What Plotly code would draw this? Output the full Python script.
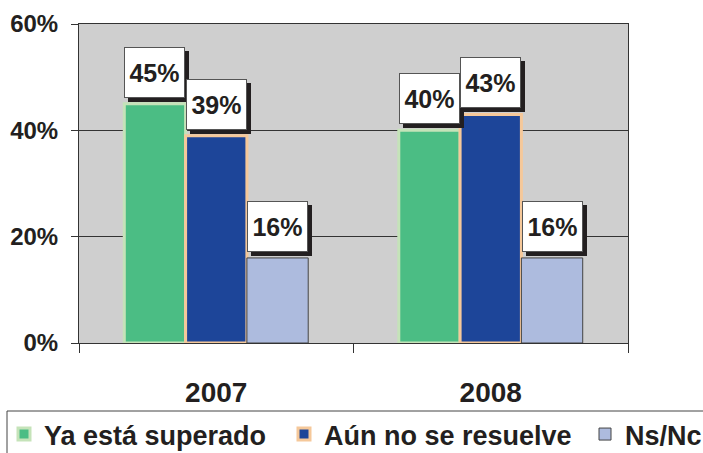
import plotly.graph_objects as go

years = ["2007", "2008"]
series_names = ["Ya está superado", "Aún no se resuelve", "Ns/Nc"]
ya_superado = [0.45, 0.40]
no_resuelve = [0.39, 0.43]
ns_nc = [0.16, 0.16]
y_ticks = [0, 0.2, 0.4, 0.6]
y_tick_labels = ["0%", "20%", "40%", "60%"]

series_values = [ya_superado, no_resuelve, ns_nc]
fill_colors = ["#4bbd84", "#1d4599", "#adbbde"]
line_colors = ["#c5e3b9", "#f5c89a", "#444444"]
line_widths = [3, 3, 1]
legend_ids = ["legend", "legend2", "legend3"]
legend_left_px = [4, 284, 585]

FONT = "Liberation Sans, Arial, sans-serif"
TXT = "#231f20"
W, H = 703, 453
ML, MR, MT, MB = 79, 75, 24, 110
PW, PH = W - ML - MR, H - MT - MB

fig = go.Figure()
for name, vals, fc, lc, lw, lg in zip(series_names, series_values, fill_colors,
                                      line_colors, line_widths, legend_ids):
    fig.add_trace(go.Bar(
        x=years, y=vals, name=name, legend=lg,
        marker=dict(color=fc, line=dict(color=lc, width=lw)),
    ))

bargap = 0.33
n = len(series_values)
bw = (1 - bargap) / n
annotations = []
for si, vals in enumerate(series_values):
    for ci, v in enumerate(vals):
        xpos = ci + (si - (n - 1) / 2) * bw
        label = f"<b>{round(v*100)}%</b>"
        # drop shadow box (no text)
        annotations.append(dict(
            x=xpos, y=v, xref="x", yref="y", text=" ", showarrow=False,
            xanchor="center", yanchor="bottom", xshift=4, yshift=2,
            width=57, height=47, bgcolor="#231f20", bordercolor="#231f20",
            borderwidth=1, borderpad=1,
            font=dict(family=FONT, size=25, color="#231f20"),
        ))
        annotations.append(dict(
            x=xpos, y=v, xref="x", yref="y", text=label, showarrow=False,
            xanchor="center", yanchor="bottom", xshift=0, yshift=6,
            width=57, height=47, bgcolor="white", bordercolor="#555555",
            borderwidth=1, borderpad=1,
            font=dict(family=FONT, size=25, color=TXT),
        ))

legend_font = dict(family=FONT, size=27, color=TXT, weight="bold")
legends = {}
for lg, lx in zip(legend_ids, legend_left_px):
    legends[lg] = dict(
        orientation="h",
        xref="container", yref="container",
        x=lx / W, y=1 - 410 / H, xanchor="left", yanchor="top",
        borderwidth=0, bgcolor="rgba(0,0,0,0)",
        font=legend_font,
    )

# legend frame
frame = dict(
    type="rect", xref="paper", yref="paper", layer="above",
    x0=(7 - ML) / PW, x1=(W + 20 - ML) / PW,
    y0=-(411 - (H - MB)) / PH,
    y1=-(H + 20 - (H - MB)) / PH,
    line=dict(color="#444444", width=1), fillcolor="rgba(0,0,0,0)",
)

fig.update_layout(
    width=W, height=H,
    margin=dict(l=ML, r=MR, t=MT, b=MB, autoexpand=False),
    paper_bgcolor="white",
    plot_bgcolor="#cfcfcf",
    barmode="group",
    bargap=bargap,
    bargroupgap=0,
    annotations=annotations,
    shapes=[frame],
    font=dict(family=FONT, color=TXT),
    showlegend=True,
    **legends,
)
fig.update_xaxes(
    type="category",
    showline=True, linecolor="#333333", linewidth=1, mirror=True,
    ticks="outside", tickson="boundaries", ticklen=9, tickcolor="#333333",
    tickfont=dict(family=FONT, size=28, color=TXT, weight="bold"),
    ticklabelstandoff=24,
    showgrid=False,
)
fig.update_yaxes(
    range=[0, 0.6],
    tickvals=y_ticks, ticktext=y_tick_labels,
    showline=True, linecolor="#333333", linewidth=1, mirror=True,
    ticks="outside", ticklen=7, tickcolor="#333333",
    showgrid=True, gridcolor="#333333", gridwidth=1,
    zeroline=False,
    tickfont=dict(family=FONT, size=24, color=TXT, weight="bold"),
    ticklabelstandoff=8,
)

fig.write_html(
    "out.html",
    config={"displayModeBar": False},
    post_script="document.body.style.margin='0';document.body.style.overflow='hidden';",
)
